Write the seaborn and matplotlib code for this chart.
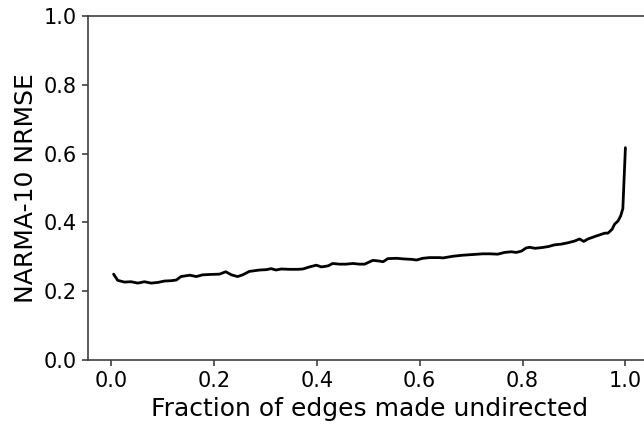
import matplotlib
matplotlib.use("Agg")
import matplotlib.pyplot as plt
import seaborn as sns
import pandas as pd

# Fraction of edges converted from directed to undirected
fraction = [
    0.005, 0.013, 0.026, 0.039, 0.052, 0.065, 0.078, 0.091, 0.104, 0.117,
    0.127, 0.136, 0.153, 0.166, 0.178, 0.191, 0.211, 0.223, 0.234, 0.246,
    0.256, 0.269, 0.289, 0.302, 0.311, 0.321, 0.331, 0.347, 0.363, 0.373,
    0.386, 0.399, 0.409, 0.422, 0.431, 0.444, 0.457, 0.470, 0.483, 0.493,
    0.509, 0.522, 0.529, 0.538, 0.555, 0.571, 0.584, 0.594, 0.606, 0.619,
    0.639, 0.645, 0.665, 0.684, 0.704, 0.723, 0.736, 0.752, 0.765, 0.778,
    0.788, 0.798, 0.807, 0.814, 0.824, 0.837, 0.850, 0.862, 0.875, 0.888,
    0.901, 0.911, 0.919, 0.927, 0.940, 0.950, 0.960, 0.966, 0.974, 0.979,
    0.986, 0.991, 0.995, 1.000,
]

# NARMA-10 normalised root-mean-square error for each fraction
nrmse = [
    0.250, 0.232, 0.227, 0.228, 0.224, 0.228, 0.224, 0.226, 0.230, 0.231,
    0.233, 0.243, 0.247, 0.243, 0.248, 0.249, 0.250, 0.257, 0.248, 0.243,
    0.248, 0.258, 0.262, 0.263, 0.266, 0.262, 0.265, 0.264, 0.264, 0.265,
    0.271, 0.276, 0.271, 0.274, 0.281, 0.279, 0.279, 0.281, 0.279, 0.279,
    0.290, 0.288, 0.286, 0.295, 0.296, 0.294, 0.293, 0.291, 0.296, 0.298,
    0.298, 0.297, 0.302, 0.305, 0.307, 0.309, 0.309, 0.308, 0.313, 0.315,
    0.313, 0.317, 0.326, 0.328, 0.325, 0.327, 0.330, 0.335, 0.337, 0.341,
    0.346, 0.352, 0.345, 0.352, 0.359, 0.364, 0.369, 0.369, 0.380, 0.395,
    0.405, 0.420, 0.440, 0.617,
]

x_ticks = [0.0, 0.2, 0.4, 0.6, 0.8, 1.0]
y_ticks = [0.0, 0.2, 0.4, 0.6, 0.8, 1.0]

sns.set_style("ticks")
plt.rcParams["font.family"] = ["DejaVu Sans"]

df = pd.DataFrame({"fraction": fraction, "nrmse": nrmse})

fig = plt.figure(figsize=(6.44, 4.25), dpi=100)
# axes extend slightly past the right edge of the canvas
ax = fig.add_axes([88 / 644, 64.7 / 425, 563 / 644, 344.6 / 425])

sns.lineplot(data=df, x="fraction", y="nrmse", color="black",
             linewidth=2.0, ax=ax)

ax.set_ylim(0, 1)
ax.set_xticks(x_ticks)
ax.set_yticks(y_ticks)
ax.set_xticklabels([f"{t:.1f}" for t in x_ticks])
ax.set_yticklabels([f"{t:.1f}" for t in y_ticks])
ax.tick_params(labelsize=15, length=4.5, width=1.2, colors="0.25",
               labelcolor="black")
for s in ax.spines.values():
    s.set_linewidth(1.2)
    s.set_color("0.25")
ax.set_xlabel("Fraction of edges made undirected", fontsize=18, color="black")
ax.set_ylabel("NARMA-10 NRMSE", fontsize=18, color="black")

fig.savefig("out.png", dpi=100)
